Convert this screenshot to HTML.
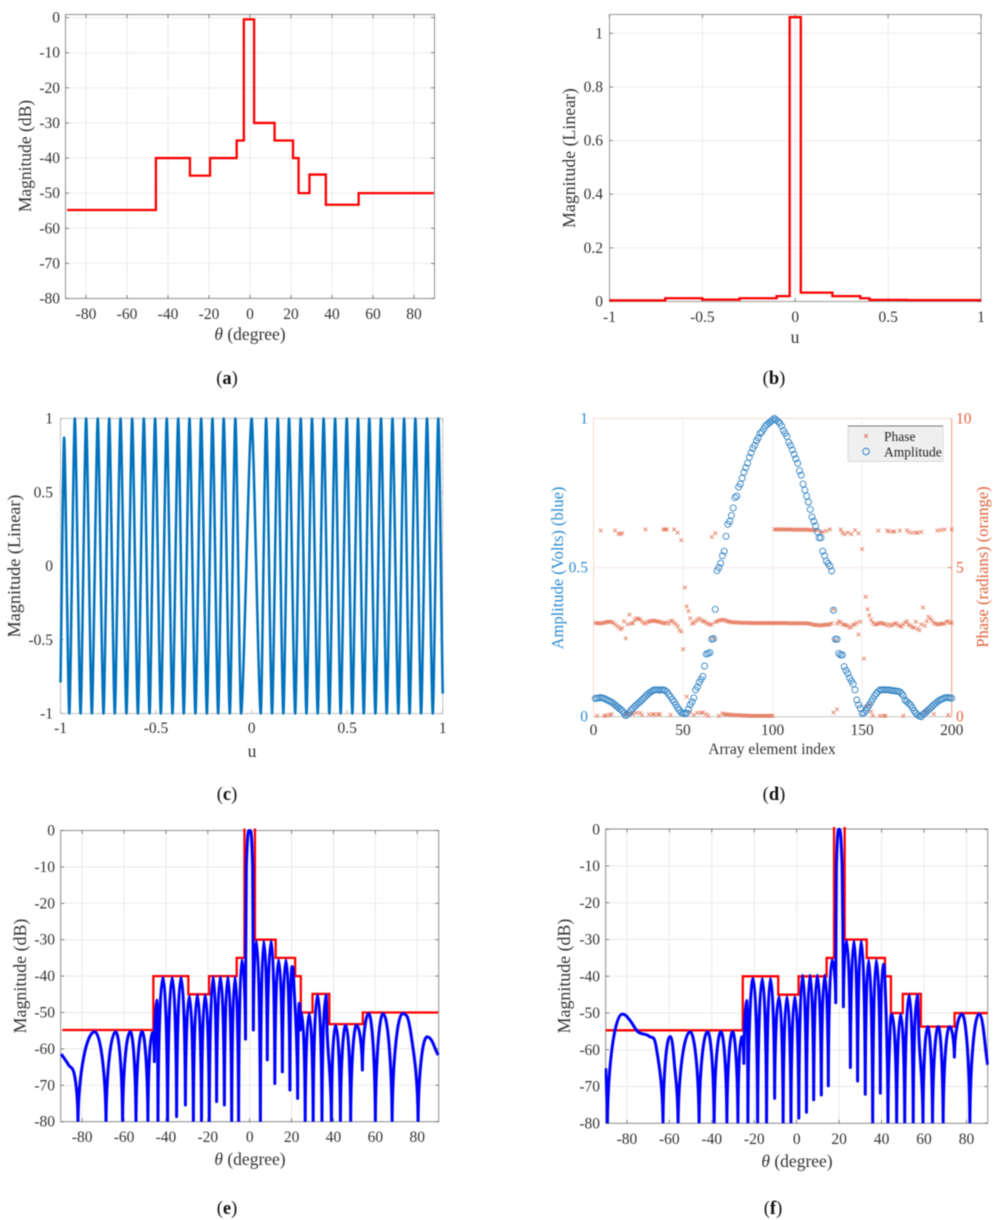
<!DOCTYPE html>
<html lang="en">
<head>
<meta charset="utf-8">
<title>Radiation pattern figure</title>
<style>
html,body{margin:0;padding:0;background:#fff;width:998px;height:1220px;overflow:hidden}
svg{display:block;filter:blur(0.4px)}
text{font-family:"Liberation Serif",serif;fill:#333}
.lab{font-size:17.5px}
.cap{font-size:18.5px;fill:#111}
.tick{font-size:15.5px}
</style>
</head>
<body>
<svg id="fig" xmlns="http://www.w3.org/2000/svg" width="998" height="1220" viewBox="0 0 998 1220">
  <g id="panel-a"></g>
  <g id="panel-b"></g>
  <g id="panel-c"></g>
  <g id="panel-d"></g>
  <g id="panel-e"></g>
  <g id="panel-f"></g>

  <text class="lab" x="26" y="156" text-anchor="middle" transform="rotate(-90 26 156)" dy="5">Magnitude (dB)</text>
  <text class="lab" x="250" y="340" text-anchor="middle"><tspan font-style="italic">θ</tspan> (degree)</text>
  <text class="cap" x="227" y="384" text-anchor="middle">(<tspan font-weight="bold">a</tspan>)</text>

  <text class="lab" x="570" y="158" text-anchor="middle" transform="rotate(-90 570 158)" dy="5" style="font-size:17.8px">Magnitude (Linear)</text>
  <text class="lab" x="795" y="343" text-anchor="middle">u</text>
  <text class="cap" x="774" y="384" text-anchor="middle">(<tspan font-weight="bold">b</tspan>)</text>

  <text class="lab" x="15" y="566" text-anchor="middle" transform="rotate(-90 15 566)" dy="5" style="font-size:18.2px">Magnitude (Linear)</text>
  <text class="lab" x="252" y="757" text-anchor="middle">u</text>
  <text class="cap" x="227" y="800" text-anchor="middle">(<tspan font-weight="bold">c</tspan>)</text>

  <text x="558" y="568" text-anchor="middle" transform="rotate(-90 558 568)" dy="5" style="font-size:16.5px;fill:#2a8bd0">Amplitude (Volts) (blue)</text>
  <text x="983" y="567" text-anchor="middle" transform="rotate(-90 983 567)" dy="5" style="font-size:16.5px;fill:#e0623a">Phase (radians) (orange)</text>
  <text x="772" y="754" text-anchor="middle" style="font-size:15.5px">Array element index</text>
  <text class="cap" x="774" y="800" text-anchor="middle">(<tspan font-weight="bold">d</tspan>)</text>

  <text class="lab" x="21" y="976" text-anchor="middle" transform="rotate(-90 21 976)" dy="5" style="font-size:17.9px">Magnitude (dB)</text>
  <text class="lab" x="250" y="1165" text-anchor="middle"><tspan font-style="italic">θ</tspan> (degree)</text>
  <text class="cap" x="227" y="1214" text-anchor="middle">(<tspan font-weight="bold">e</tspan>)</text>

  <text class="lab" x="565" y="976" text-anchor="middle" transform="rotate(-90 565 976)" dy="5" style="font-size:17.9px">Magnitude (dB)</text>
  <text class="lab" x="797" y="1167" text-anchor="middle"><tspan font-style="italic">θ</tspan> (degree)</text>
  <text class="cap" x="773" y="1214" text-anchor="middle">(<tspan font-weight="bold">f</tspan>)</text>

  <g id="legend">
    <rect x="848" y="426" width="95" height="35.5" fill="#efefef" stroke="#d0d0d0" stroke-width="0.7"/>
    <path d="M848 426H943" stroke="#777" stroke-width="0.9"/>
    <path d="M864.2 434.2l3.6 3.6m0-3.6l-3.6 3.6" stroke="#e0684a" stroke-width="0.9" fill="none"/>
    <text x="884" y="441" style="font-size:13.5px;fill:#222">Phase</text>
    <circle cx="866" cy="451.5" r="3.3" fill="none" stroke="#2f82c4" stroke-width="1"/>
    <text x="884" y="456.5" style="font-size:13.5px;fill:#222">Amplitude</text>
  </g>
</svg>
<script>
// ---- Panel (a) spatial mask, dB ----
const maskAEdges = [-89.2,-45.9,-29.3,-19.5,-6.5,-3,2,12,21,23.7,29,37,53,89.6];
const maskALevels = [-54.8,-40,-45,-40,-35,-0.5,-30,-35,-40,-50,-44.7,-53.3,-50];
// ---- Panel (b) mask in u-space, linear ----
const maskBEdges = [-1,-0.7,-0.5,-0.3,-0.1,-0.03,0.03,0.2,0.35,0.4,0.6,1];
const maskBLevels = [0.004,0.012,0.007,0.012,0.02,1.06,0.033,0.02,0.012,0.006,0.005];
// ---- Panel (c) oscillating response: extremes ----
const waveU = [-1,-0.981,-0.954,-0.925,-0.895,-0.866,-0.836,-0.805,-0.775,-0.745,-0.716,-0.686,-0.655,-0.625,-0.595,-0.564,-0.534,-0.505,-0.475,-0.444,-0.414,-0.384,-0.355,-0.325,-0.294,-0.264,-0.234,-0.205,-0.175,-0.146,-0.114,-0.085,-0.055,0,0.048,0.076,0.107,0.137,0.166,0.196,0.228,0.257,0.287,0.316,0.346,0.377,0.407,0.437,0.466,0.498,0.527,0.557,0.587,0.616,0.648,0.677,0.707,0.737,0.768,0.798,0.827,0.857,0.887,0.918,0.948,0.977,1];
const waveValues = [-0.79,0.87,-1,1,-1,1,-1,1,-1,1,-1,1,-1,1,-1,1,-1,1,-1,1,-1,1,-1,1,-1,1,-1,1,-1,1,-1,1,-1,1,-1,1,-1,1,-1,1,-1,1,-1,1,-1,1,-1,1,-1,1,-1,1,-1,1,-1,1,-1,1,-1,1,-1,1,-1,1,-1,1,-0.865];
// ---- Panel (d) array weights ----
const amplitudeValues = [
.061,.062,.063,.064,.063,.061,.058,.055,.052,.049,
.045,.04,.035,.03,.025,.02,.012,.004,.008,.014,
.022,.028,.034,.04,.045,.05,.056,.062,.068,.074,
.079,.083,.087,.09,.09,.09,.089,.09,.09,.088,
.083,.075,.067,.058,.05,.04,.03,.022,.014,.012,
.01,.012,.026,.04,.05,.063,.09,.1,.115,.125,
.135,.17,.21,.212,.215,.26,.262,.36,.49,.5,
.515,.54,.555,.605,.645,.655,.675,.7,.735,.74,
.77,.78,.8,.82,.835,.85,.87,.885,.9,.91,
.925,.935,.95,.955,.965,.975,.98,.985,.99,.995,
1,.995,.99,.985,.975,.96,.95,.94,.92,.91,
.895,.88,.865,.85,.825,.81,.78,.76,.74,.72,
.695,.67,.655,.64,.62,.6,.6,.555,.54,.522,
.514,.505,.489,.357,.26,.26,.212,.207,.207,.168,
.155,.145,.13,.12,.11,.09,.056,.04,.028,.011,
.013,.02,.03,.04,.05,.06,.07,.078,.085,.09,
.09,.09,.09,.09,.09,.088,.088,.087,.086,.085,
.084,.078,.07,.056,.05,.045,.04,.03,.02,.012,
.006,.002,0,.008,.012,.017,.023,.028,.034,.04,
.045,.05,.054,.058,.06,.063,.064,.064,.063,.062];
const phaseMidValues = [
3.15,3.13,3.14,3.12,3.15,3.15,3.17,3.18,3.18,3.18,
3.15,3.1,3.05,3,2.93,2.97,3.2,2.63,3.1,3.42,
3.12,3.14,3.25,3.3,3.28,3.27,3.2,3.15,3.12,3.17,
3.2,3.2,3.22,3.22,3.2,3.2,3.17,3.17,3.13,3.13,
3.17,3.12,3.2,3.22,3.15,3.1,3.03,2.9,2.85,2.26,
4.33,3.7,3.54,3.3,3.12,3.15,3.2,3.25,3.3,3.25,
3.2,3.2,3.15,3.12,3.08,3.1,2.63,3.17,3.2,3.22,
3.25,3.24,3.25,3.22,3.2,3.18,3.17,3.17,3.16,3.16,
3.16,3.15,3.15,3.15,3.15,3.15,3.15,3.14,3.14,3.14,
3.14,3.14,3.14,3.14,3.14,3.14,3.14,3.14,3.14,3.14,
3.14,3.14,3.14,3.14,3.14,3.14,3.14,3.14,3.13,3.13,
3.13,3.13,3.13,3.13,3.13,3.13,3.13,3.13,3.13,3.12,
3.12,3.1,3.08,3.08,3.07,3.07,3.06,3.07,3.08,3.09,
3.08,3.1,3.13,3.6,2.57,3.12,3.2,3.17,3.1,3.08,
3.07,3.05,2.98,3.02,3.08,3.1,3.15,2.76,3.18,5.62,
1.95,4.02,3.6,3.4,3.25,3.15,3.1,3.1,3.12,3.15,
3.13,3.12,3.1,3.05,3.1,3.05,3.08,3.12,3.14,3.08,
3.04,3.02,3.1,3.16,3.2,3.08,3.05,3,2.98,3.18,
2.95,2.9,3.1,3.66,3.05,3.2,3.35,3.3,3.22,3.15,
3.12,3.1,3.1,3.12,3.12,3.12,3.18,3.2,3.15,3.15];
const phaseHighIndex = [4,12,14,15,16,29,39,40,41,45,47,49,66,68,101,102,103,104,105,106,107,108,109,110,111,112,113,114,115,116,117,118,119,120,121,122,123,124,125,127,128,130,132,138,139,140,142,144,146,148,159,164,165,167,168,171,175,176,178,180,181,183,192,194,196,200];
const phaseHighValues = [6.24,6.24,6.14,6.12,6.16,6.28,6.28,6.28,6.28,6.28,6.17,5.92,6.03,6.15,6.28,6.28,6.28,6.28,6.28,6.28,6.28,6.28,6.28,6.28,6.27,6.27,6.27,6.27,6.27,6.27,6.27,6.27,6.27,6.27,6.26,6.26,6.26,6.26,6.26,6.17,6.2,6.23,6.28,6.28,6.17,6.12,6.17,6.12,6.26,6.15,6.24,6.24,6.21,6.21,6.21,6.24,6.25,6.19,6.17,6.17,6.17,6.19,6.24,6.26,6.28,6.28];
const phaseLowIndex = [2,6,7,9,10,18,20,22,24,26,27,31,33,34,36,37,43,52,54,56,58,60,61,63,64,70,72,73,74,75,76,77,78,79,80,81,82,83,84,85,86,87,88,89,90,91,92,93,94,95,96,97,98,99,100,134,136,152,154,155,156,160,162,163,173,185,187,190,198];
const phaseLowValues = [.03,.03,.04,.06,.08,.09,.11,.09,.13,.13,.06,.08,.08,.08,.08,.08,.06,.67,.16,.06,.13,.13,.14,.09,.03,.03,.11,.08,.08,.07,.07,.06,.06,.05,.05,.05,.05,.04,.04,.04,.04,.03,.03,.03,.03,.03,.03,.03,.03,.03,.03,.03,.03,.03,.03,.14,.25,.35,.4,.17,.03,.03,.03,.03,.03,.17,.22,.09,.06];
// ---- Panels (e) and (f) radiation pattern: peaks and nulls ----
const maskEEdges = [-89.5,-46,-29.3,-19.4,-6.2,-2.5,2.5,12.4,21.7,24.4,30,38,54,90];
const maskELevels = [-54.8,-40,-45,-40,-35,3,-30,-35,-40,-50,-44.9,-53.2,-50];
const patternETheta = [-90,-86.5,-83.4,-82,-74,-68.6,-64,-60.7,-57,-54.3,-51.4,-48.6,-46.5,-45.5,-44.4,-43.8,-41.4,-39.2,-37,-34.9,-32.8,-30.7,-28.8,-26.9,-25,-23,-21.3,-19.3,-17.4,-15.8,-14,-12.1,-10.4,-8.6,-7,-5.3,-3.8,-2,-1.9,-1.6,0,1.4,1.65,1.75,3.2,5.1,6.7,8.4,10.3,12,13.8,15.6,17.3,19.2,20.2,21,22.9,23.7,24.1,24.7,26.5,28.4,30.3,32.4,34.5,36.4,37,39,41,43.3,45.9,48.2,51,53.8,56.8,60,63.7,68,73,77.2,80.4,84.6,90];
const patternEValues = [-61.4,-64.4,-68,-80,-55.3,-80,-55.3,-80,-55.3,-80,-55.3,-80,-55.5,-63.5,-46.6,-80,-40.4,-80,-40.4,-78.6,-40.4,-75.4,-45.5,-80,-45.2,-80,-45.2,-80,-40.2,-74.5,-40.2,-75.4,-40.2,-80,-40.2,-80,-35.6,-57.3,-35,-10,0,-10,-35,-54.8,-30.4,-80,-30.4,-63,-30.4,-69.5,-35.6,-66.3,-35.6,-71.3,-37.4,-41,-73.6,-47.5,-54.8,-50,-80,-50.3,-80,-45.2,-80,-45.2,-55.7,-80,-53.5,-80,-53.5,-80,-53.5,-65.8,-50.3,-80,-50.3,-80,-50.3,-56.7,-80,-56.7,-61.7];
const maskFEdges = [-90,-25.4,-8.7,0.9,14.1,17.6,22.6,33,41.6,44.4,50,58.5,74.4,90];
const maskFLevels = [-54.7,-40,-45,-40,-35,3,-30,-35,-40,-50,-44.8,-53.7,-50];
const patternFTheta = [-90,-89.2,-82.2,-78.7,-74.8,-69.3,-66.1,-63,-59.7,-57.5,-55.9,-50.2,-46,-42,-38.9,-35.7,-32.9,-30.2,-27.7,-26,-24.9,-23.6,-23,-20.5,-18.4,-16.2,-14.2,-12.4,-10.4,-8.3,-6.4,-4.6,-2.7,-0.9,1,2.8,4.6,6.3,8,9.7,11.6,13.2,14.9,16.6,18.4,18.5,18.7,20,21.4,21.8,22,23.5,25.3,27,28.7,30.4,32.3,33.9,35.8,37.5,39.4,40.5,41.6,43,44,44.9,47.1,49,50.9,53,54.9,56.8,57.6,59.5,61.7,64,66.7,69,72,74.3,77.9,81.6,85.9,90];
const patternFValues = [-65,-80,-50.3,-51.9,-55.1,-56.4,-59.6,-80,-56.4,-64.6,-80,-55.1,-80,-55.1,-80,-55.1,-80,-55.1,-80,-56.4,-63.7,-46.6,-80,-40.6,-80,-40.6,-80,-40.6,-73.2,-45.6,-80,-45.6,-80,-45.6,-78.6,-39.7,-77,-39.7,-73.6,-39.7,-72.3,-39.7,-69.8,-35.6,-47.2,-30,-10,0,-10,-30,-48.3,-30.4,-64.8,-30.4,-68.5,-30.4,-72.1,-35.6,-80,-35.6,-71.8,-37,-41.5,-80,-55,-50.3,-80,-50.3,-80,-45.1,-80,-45.1,-56.4,-80,-53.7,-80,-53.7,-80,-53.7,-62,-50.3,-80,-50.3,-64.1];
// ---- Tick labels ----
const thetaTicks = [-80,-60,-40,-20,0,20,40,60,80];
const dbTicks = [0,-10,-20,-30,-40,-50,-60,-70,-80];
const uTicks = [-1,-0.5,0,0.5,1];
const linearTicksB = [0,0.2,0.4,0.6,0.8,1];
const linearTicksC = [1,0.5,0,-0.5,-1];
const elementTicks = [0,50,100,150,200];
const amplitudeTicks = [0,0.5,1];
const phaseTicks = [0,5,10];

const NS = 'http://www.w3.org/2000/svg';
function mk(tag, parent, attrs){
  const n = document.createElementNS(NS, tag);
  for (const k in attrs) n.setAttribute(k, attrs[k]);
  parent.appendChild(n);
  return n;
}
function scale(d0, d1, r0, r1){ return v => r0 + (v - d0) * (r1 - r0) / (d1 - d0); }
const fmt = f => f.toFixed(2);

function stepPath(edges, levels, sx, sy){
  let d = 'M' + fmt(sx(edges[0])) + ' ' + fmt(sy(levels[0]));
  levels.forEach((lv, i) => {
    d += 'L' + fmt(sx(edges[i])) + ' ' + fmt(sy(lv)) + 'L' + fmt(sx(edges[i + 1])) + ' ' + fmt(sy(lv));
  });
  return d;
}
function curvePath(xs, ys, sx, sy, nullVertical, k){
  const P = xs.map((x, i) => [sx(x), sy(ys[i])]);
  const kind = i => {
    if (i === 0 || i === P.length - 1) return 'm';
    if (P[i][1] <= P[i-1][1] && P[i][1] <= P[i+1][1]) return 'p';
    if (P[i][1] >= P[i-1][1] && P[i][1] >= P[i+1][1]) return nullVertical ? 'n' : 'p';
    return 'm';
  };
  const slope = i => {
    const a = P[Math.max(0, i - 1)], b = P[Math.min(P.length - 1, i + 1)];
    return (b[1] - a[1]) / (b[0] - a[0]);
  };
  let d = 'M' + fmt(P[0][0]) + ' ' + fmt(P[0][1]);
  for (let i = 0; i < P.length - 1; i++){
    const a = P[i], b = P[i + 1], dx = b[0] - a[0], dy = b[1] - a[1];
    const ka = kind(i), kb = kind(i + 1);
    let c1, c2;
    if (ka === 'p') c1 = [a[0] + k * dx, a[1]];
    else if (ka === 'n') c1 = [a[0] + 0.05 * dx, a[1] + 0.55 * dy];
    else c1 = [a[0] + dx / 3, a[1] + slope(i) * dx / 3];
    if (kb === 'p') c2 = [b[0] - k * dx, b[1]];
    else if (kb === 'n') c2 = [b[0] - 0.05 * dx, b[1] - 0.55 * dy];
    else c2 = [b[0] - dx / 3, b[1] - slope(i + 1) * dx / 3];
    d += 'C' + c1.map(fmt).join(' ') + ' ' + c2.map(fmt).join(' ') + ' ' + fmt(b[0]) + ' ' + fmt(b[1]);
  }
  return d;
}
function drawAxes(g, o){
  if (o.gridX || o.gridY){
    if (o.gridX) o.xTicks.forEach(t => {
      const ln = mk('line', g, {x1:o.sx(t), x2:o.sx(t), y1:o.top, y2:o.bottom, stroke:o.grid, 'stroke-width':1});
      
      
    });
    if (o.gridY) o.yTicks.forEach(t => {
      const ln = mk('line', g, {x1:o.left, x2:o.right, y1:o.sy(t), y2:o.sy(t), stroke:o.grid, 'stroke-width':1});
      
      
    });
  }
  const frame = mk('rect', g, {x:o.left, y:o.top, width:o.right - o.left, height:o.bottom - o.top, fill:'none', stroke:o.axis, 'stroke-width':1});
  
  
  o.xTicks.forEach(t => {
    const tk = mk('line', g, {x1:o.sx(t), x2:o.sx(t), y1:o.bottom, y2:o.bottom - 3.5, stroke:o.tick, 'stroke-width':0.8});
    
    
    const tp = mk('line', g, {x1:o.sx(t), x2:o.sx(t), y1:o.top, y2:o.top + 3.5, stroke:o.tick, 'stroke-width':0.8});
    
    
    const lb = mk('text', g, {x:o.sx(t), y:o.xLabelY, 'text-anchor':'middle', class:'tick'});
    
    
    lb.textContent = String(t);
  });
  o.yTicks.forEach(t => {
    const tk = mk('line', g, {x1:o.left, x2:o.left + 3.5, y1:o.sy(t), y2:o.sy(t), stroke:o.tick, 'stroke-width':0.8});
    
    
    const tr = mk('line', g, {x1:o.right, x2:o.right - 3.5, y1:o.sy(t), y2:o.sy(t), stroke:o.tick, 'stroke-width':0.8});
    
    
    const lb = mk('text', g, {x:o.yLabelX, y:o.sy(t) + 5, 'text-anchor':'end', class:'tick'});
    
    
    lb.textContent = String(t);
  });
}
function clipFor(g, id, o){
  const cp = mk('clipPath', g, {id:id});
  mk('rect', cp, {x:o.left - 1, y:o.top - 2, width:o.right - o.left + 2, height:o.bottom - o.top + 2});
  return 'url(#' + id + ')';
}
function patternPanel(id, o, edges, levels, xs, ys){
  const g = document.getElementById(id);
  drawAxes(g, o);
  const clip = clipFor(g, id + '-clip', o);
  const mask = mk('path', g, {d:stepPath(edges, levels, o.sx, o.sy), fill:'none', stroke:'#ff0000', 'stroke-width':o.maskW, 'stroke-linejoin':'miter', 'clip-path':clip});
  
  
  if (xs){
    const line = mk('path', g, {d:curvePath(xs, ys, o.sx, o.sy, true, 0.5), fill:'none', stroke:'#0000ff', 'stroke-width':3, 'stroke-linejoin':'round', 'clip-path':clip});
    
    
  }
}
// Panel a
patternPanel('panel-a', {left:65.5, right:434.5, top:14.5, bottom:298.5,
  sx:scale(-90, 90, 65.5, 434.5), sy:scale(0, -80, 17.6, 298.5),
  xTicks:thetaTicks, yTicks:dbTicks, gridX:true, gridY:true, grid:'#ececec', axis:'#8e8e8e', tick:'#666',
  xLabelY:319, yLabelX:60, maskW:2.3}, maskAEdges, maskALevels);
// Panel b
patternPanel('panel-b', {left:609.5, right:981, top:14.5, bottom:301.5,
  sx:scale(-1, 1, 609.5, 981), sy:scale(0, 1, 301.5, 33.3),
  xTicks:uTicks, yTicks:linearTicksB, gridX:true, gridY:true, grid:'#ececec', axis:'#9a9a9a', tick:'#666',
  xLabelY:322, yLabelX:603, maskW:2.3}, maskBEdges, maskBLevels);
// Panel c
(function(){
  const o = {left:60.5, right:442.7, top:418.5, bottom:713.5,
    sx:scale(-1, 1, 60.5, 442.7), sy:scale(-1, 1, 713.5, 418.5),
    xTicks:uTicks, yTicks:linearTicksC, gridX:false, gridY:false, grid:'#eee', axis:'#c4c4c4', tick:'#aaa',
    xLabelY:733, yLabelX:53};
  const g = document.getElementById('panel-c');
  drawAxes(g, o);
  const line = mk('path', g, {d:curvePath(waveU, waveValues, o.sx, o.sy, false, 0.22), fill:'none', stroke:'#0072bd', 'stroke-width':2.5, 'stroke-linejoin':'round'});
  
  
})();
// Panel d
(function(){
  const L = 593.5, R = 951.7, T = 418.5, B = 716.7;
  const sx = scale(0, 200, L, R), sA = scale(0, 1, B, T), sP = scale(0, 10, B, T);
  const g = document.getElementById('panel-d');
  elementTicks.forEach(t => {
    const ln = mk('line', g, {x1:sx(t), x2:sx(t), y1:T, y2:B, stroke:'#eeeeee', 'stroke-width':1});
    
    
    const lb = mk('text', g, {x:sx(t), y:735, 'text-anchor':'middle', class:'tick'});
    
    
    lb.textContent = String(t);
  });
  amplitudeTicks.forEach(t => {
    const ln = mk('line', g, {x1:L, x2:R, y1:sA(t), y2:sA(t), stroke:'#f6e6e0', 'stroke-width':1});
    
    
    const lb = mk('text', g, {x:588, y:sA(t) + 5, 'text-anchor':'end', class:'tick', style:'fill:#2a8bd0'});
    
    
    lb.textContent = String(t);
  });
  phaseTicks.forEach(t => {
    const tk = mk('line', g, {x1:R, x2:R - 4, y1:sP(t), y2:sP(t), stroke:'#e0623a', 'stroke-width':0.8});
    
    
    const lb = mk('text', g, {x:956, y:sP(t) + 5, class:'tick', style:'fill:#e0623a'});
    
    
    lb.textContent = String(t);
  });
  const axT = mk('path', g, {d:`M${L} ${B}V${T}H${R}`, fill:'none', stroke:'#f5d9cf', 'stroke-width':1});
  
  
  const axB = mk('path', g, {d:`M${L} ${B}H${R}`, fill:'none', stroke:'#c9c9c9', 'stroke-width':1});
  
  
  const axR = mk('path', g, {d:`M${R} ${T}V${B}`, fill:'none', stroke:'#eb9c83', 'stroke-width':1});
  
  
  const cross = (i, v, name) => {
    const x = sx(i), y = sP(v), s = 1.9;
    const c = mk('path', g, {d:`M${fmt(x-s)} ${fmt(y-s)}L${fmt(x+s)} ${fmt(y+s)}M${fmt(x+s)} ${fmt(y-s)}L${fmt(x-s)} ${fmt(y+s)}`, stroke:'#e5775a', 'stroke-width':0.8, fill:'none'});
    
    
  };
  phaseMidValues.forEach((v, i) => cross(i + 1, v, 'phase-point'));
  phaseHighValues.forEach((v, i) => cross(phaseHighIndex[i], v, 'phase-point'));
  phaseLowValues.forEach((v, i) => cross(phaseLowIndex[i], v, 'phase-point'));
  amplitudeValues.forEach((v, i) => {
    const c = mk('circle', g, {cx:fmt(sx(i + 1)), cy:fmt(sA(v)), r:3, fill:'none', stroke:'#2f82c4', 'stroke-width':0.9});
    
    
  });
})();
// Panel e
patternPanel('panel-e', {left:60.7, right:438.7, top:830.5, bottom:1121.7,
  sx:scale(-90, 90, 61.2, 438.2), sy:scale(0, -80, 830.5, 1121.7),
  xTicks:thetaTicks, yTicks:dbTicks, gridX:true, gridY:true, grid:'#e9e9e9', axis:'#8e8e8e', tick:'#666',
  xLabelY:1142, yLabelX:55, maskW:2.3}, maskEEdges, maskELevels, patternETheta, patternEValues);
// Panel f
patternPanel('panel-f', {left:605.7, right:987.7, top:829, bottom:1123.3,
  sx:scale(-90, 90, 605.7, 987.7), sy:scale(0, -80, 829.3, 1123.3),
  xTicks:thetaTicks, yTicks:dbTicks, gridX:true, gridY:true, grid:'#e9e9e9', axis:'#8e8e8e', tick:'#666',
  xLabelY:1144, yLabelX:600, maskW:2.3}, maskFEdges, maskFLevels, patternFTheta, patternFValues);
</script>
</body>
</html>
